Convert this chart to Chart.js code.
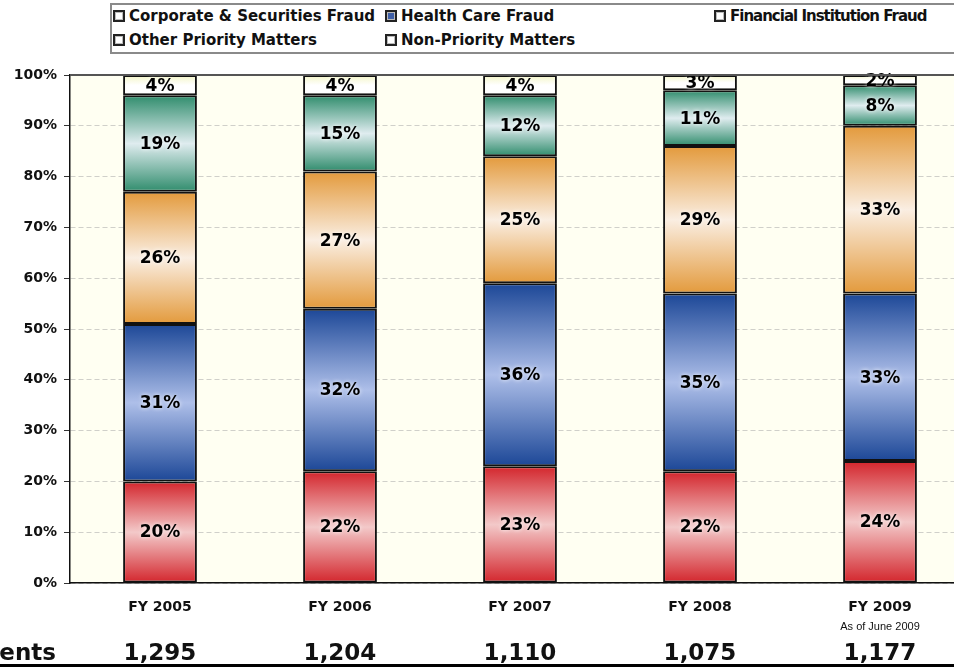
<!DOCTYPE html>
<html>
<head>
<meta charset="utf-8">
<script src="https://cdn.jsdelivr.net/npm/chart.js@4/dist/chart.umd.min.js"></script>
<style>
  html, body { margin: 0; padding: 0; background: #ffffff; overflow: hidden; width: 954px; height: 668px; }
  #wrap { position: relative; width: 954px; height: 668px; overflow: hidden; }
  #c { position: absolute; left: 0; top: 0; }
  #legend { position: absolute; left: 110px; top: 3px; width: 900px; height: 47px;
            border: 2px solid #8a8a8a; border-right: none; background: #fff; }
  .li { position: absolute; font-family: "DejaVu Sans", sans-serif; font-weight: bold;
        font-size: 15px; color: #111; white-space: nowrap; line-height: 17px; }
  .li .bx { display: inline-block; width: 8px; height: 8px; border: 2px solid #222;
            background: #fff; margin-right: 4px; vertical-align: -1px; box-shadow: inset 0 0 0 1px #bbb; }
</style>
</head>
<body>
<div id="wrap">
  <canvas id="c" width="990" height="668"></canvas>
  <div id="legend"></div>
</div>
<script>
// ---- data ----
const categories = ['FY 2005', 'FY 2006', 'FY 2007', 'FY 2008', 'FY 2009'];
const subNotes = ['', '', '', '', 'As of June 2009'];
const seriesNames = ['Corporate & Securities Fraud', 'Health Care Fraud', 'Financial Institution Fraud',
                     'Other Priority Matters', 'Non-Priority Matters'];
const corporateFraud = [20, 22, 23, 22, 24];
const healthCareFraud = [31, 32, 36, 35, 33];
const financialFraud = [26, 27, 25, 29, 33];
const otherPriority = [19, 15, 12, 11, 8];
const nonPriority = [4, 4, 4, 3, 2];
const agentsLabel = 'Agents';
const agentCounts = ['1,295', '1,204', '1,110', '1,075', '1,177'];

// ---- styles ----
const seriesData = [corporateFraud, healthCareFraud, financialFraud, otherPriority, nonPriority];
const gradStops = [
  ['#d3252c', '#f3c9c9', '#d3252c'],
  ['#1c4797', '#aebfe9', '#1c4797'],
  ['#e39a3c', '#faeee2', '#e39a3c'],
  ['#2f8c6c', '#dfecef', '#2f8c6c'],
  ['#f3f5c4', '#ffffff', '#ffffff']
];
const legendPos = [[113, 8], [385, 8], [714, 8], [113, 32], [385, 32]];
const legendFill = ['#fff', '#3f5fa6', '#fff', '#fff', '#fff'];
const legendSpacing = ['0px', '0px', '-1px', '0px', '0px'];

// legend (HTML)
const lg = document.getElementById('legend');
seriesNames.forEach((n, i) => {
  const d = document.createElement('div');
  d.className = 'li';
  d.style.left = (legendPos[i][0] - 112) + 'px';
  d.style.top = (legendPos[i][1] - 5) + 'px';
  d.style.letterSpacing = legendSpacing[i];
  const b = document.createElement('span');
  b.className = 'bx';
  b.style.background = legendFill[i];
  d.appendChild(b);
  d.appendChild(document.createTextNode(n));
  lg.appendChild(d);
});

function makeBg(di) {
  return function (ctx) {
    const chart = ctx.chart;
    const y = chart.scales && chart.scales.y;
    if (!chart.chartArea || !y || ctx.dataIndex === undefined) return gradStops[di][0];
    let start = 0;
    for (let k = 0; k < di; k++) start += seriesData[k][ctx.dataIndex];
    const end = start + seriesData[di][ctx.dataIndex];
    const y0 = y.getPixelForValue(end), y1 = y.getPixelForValue(start);
    const g = chart.ctx.createLinearGradient(0, y0, 0, y1);
    const s = gradStops[di];
    g.addColorStop(0, s[0]);
    g.addColorStop(0.5, s[1]);
    g.addColorStop(1, s[2]);
    return g;
  };
}

const datasets = seriesNames.map((n, i) => ({
  label: n,
  data: seriesData[i],
  backgroundColor: makeBg(i),
  borderColor: '#111',
  borderWidth: 2,
  borderSkipped: false,
  categoryPercentage: 1.0,
  barPercentage: 0.41
}));

const plotBg = {
  id: 'plotBg',
  beforeDraw(chart) {
    const { ctx, chartArea: a } = chart;
    ctx.save();
    ctx.fillStyle = '#fffff2';
    ctx.fillRect(a.left, a.top, a.right - a.left, a.bottom - a.top);
    ctx.restore();
  }
};

const labelsPlugin = {
  id: 'segLabels',
  afterDatasetsDraw(chart) {
    const ctx = chart.ctx;
    ctx.save();
    ctx.font = 'bold 17px "DejaVu Sans", sans-serif';
    ctx.textAlign = 'center';
    ctx.textBaseline = 'middle';
    chart.data.datasets.forEach((ds, di) => {
      chart.getDatasetMeta(di).data.forEach((el, i) => {
        const cy = (el.y + el.base) / 2 + 1;
        const t = ds.data[i] + '%';
        ctx.shadowColor = 'rgba(255,255,255,0.9)';
        ctx.shadowBlur = 4;
        ctx.fillStyle = '#000';
        ctx.fillText(t, el.x, cy);
        ctx.shadowBlur = 0;
      });
    });
    ctx.restore();
  }
};

const bottomPlugin = {
  id: 'bottomRow',
  afterDraw(chart) {
    const ctx = chart.ctx;
    const x = chart.scales.x;
    const a = chart.chartArea;
    ctx.save();
    // top border line of plot
    ctx.strokeStyle = '#555';
    ctx.lineWidth = 2;
    ctx.beginPath();
    ctx.moveTo(a.left, a.top);
    ctx.lineTo(a.right, a.top);
    ctx.stroke();
    // sub notes
    ctx.fillStyle = '#111';
    ctx.font = '11px "Liberation Sans", Arial, sans-serif';
    ctx.textAlign = 'center';
    ctx.textBaseline = 'middle';
    subNotes.forEach((s, i) => { if (s) ctx.fillText(s, x.getPixelForValue(i), 627); });
    // agents row
    ctx.font = 'bold 23px "DejaVu Sans", sans-serif';
    ctx.textBaseline = 'alphabetic';
    ctx.textAlign = 'right';
    ctx.fillText(agentsLabel, 56, 660);
    ctx.textAlign = 'center';
    agentCounts.forEach((s, i) => ctx.fillText(s, x.getPixelForValue(i), 660));
    ctx.fillStyle = '#000';
    ctx.fillRect(0, 664, chart.width, 3);
    ctx.restore();
  }
};

new Chart(document.getElementById('c'), {
  type: 'bar',
  data: { labels: categories, datasets },
  plugins: [plotBg, labelsPlugin, bottomPlugin],
  options: {
    responsive: false,
    animation: false,
    devicePixelRatio: 1,
    layout: { padding: { top: 75, right: 20, left: 0, bottom: 0 } },
    plugins: { legend: { display: false }, tooltip: { enabled: false } },
    scales: {
      x: {
        stacked: true,
        offset: true,
        grid: { display: false, drawTicks: false },
        border: { display: true, color: '#111', width: 1.5 },
        ticks: { color: '#111', padding: 16, font: { family: '"DejaVu Sans", sans-serif', weight: 'bold', size: 14 } },
        afterFit(s) { s.height = 85; }
      },
      y: {
        stacked: true,
        min: 0, max: 100,
        ticks: { stepSize: 10, color: '#111', padding: 7,
                 callback: v => v + '%',
                 font: { family: '"DejaVu Sans", sans-serif', weight: 'bold', size: 14 } },
        grid: { color: 'rgba(170,170,170,0.55)', lineWidth: 1, drawTicks: true, tickLength: 6, tickColor: '#333' },
        border: { display: true, color: '#111', width: 1.5, dash: [5, 3] },
        afterFit(s) { s.width = 70; }
      }
    }
  }
});
</script>
</body>
</html>
